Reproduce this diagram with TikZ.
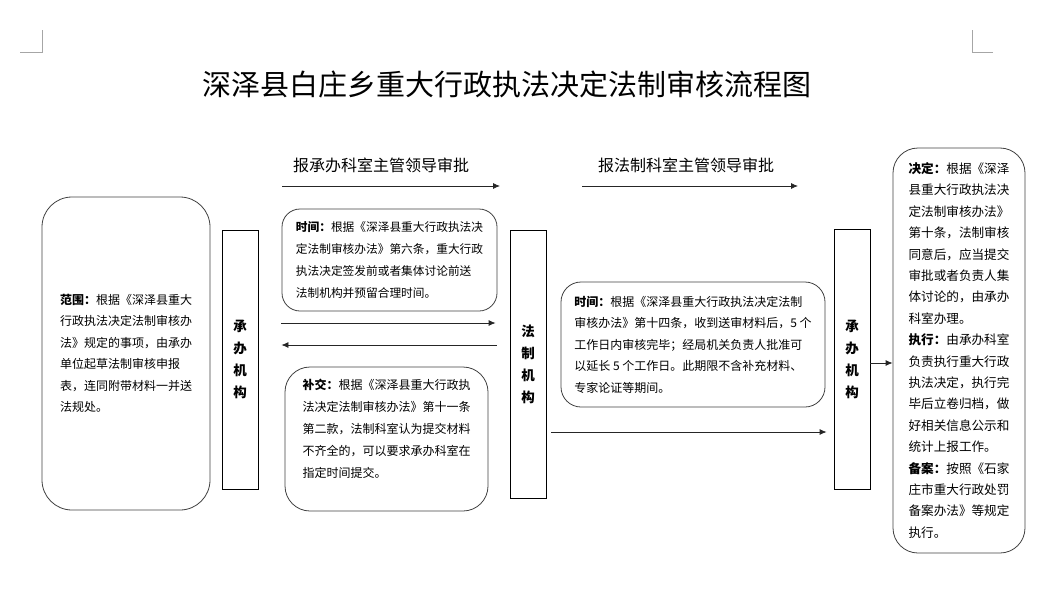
\documentclass[tikz,border=0pt]{standalone}
\usepackage{fontspec}
\setmainfont{Noto Sans CJK SC}
\usetikzlibrary{calc,positioning,arrows.meta}

\begin{document}
\begin{tikzpicture}[
  x=1pt, y=-1pt,
  >={Latex[length=7pt,width=6pt]},
  scope box/.style={
    rectangle,
    rounded corners=30pt,
    draw=black!75, line width=0.8pt,
    minimum height=313pt, minimum width=168pt,
    inner sep=0pt, align=left,
    font=\fontsize{12}{21.5}\selectfont
  },
  time box/.style={
    rectangle,
    rounded corners=18pt,
    draw=black!75, line width=0.8pt,
    minimum height=102pt, minimum width=215pt,
    inner sep=0pt, align=left,
    font=\fontsize{11.7}{22}\selectfont
  },
  supply box/.style={
    rectangle,
    rounded corners=25pt,
    draw=black!75, line width=0.8pt,
    minimum height=144pt, minimum width=203pt,
    inner sep=0pt, align=left,
    font=\fontsize{12}{22}\selectfont
  },
  review box/.style={
    rectangle,
    rounded corners=20pt,
    draw=black!75, line width=0.8pt,
    minimum height=125pt, minimum width=264pt,
    inner sep=0pt, align=left,
    font=\fontsize{12}{21.5}\selectfont
  },
  decision box/.style={
    rectangle,
    rounded corners=25pt,
    draw=black!75, line width=0.8pt,
    minimum height=405pt, minimum width=132pt,
    inner sep=0pt, align=left,
    font=\fontsize{12.6}{21.4}\selectfont
  },
  agency/.style={
    rectangle,
    draw=black, line width=0.8pt,
    minimum width=36pt,
    inner sep=0pt, align=center,
    font=\fontsize{13.5}{22}\selectfont\bfseries
  },
  header/.style={font=\fontsize{16}{18}\selectfont, inner sep=0pt},
  flow/.style={->, draw=black!85, line width=0.8pt},
  corner mark/.style={draw=black!35, line width=0.8pt}
  ]
\useasboundingbox (0,0) rectangle (1054,605);
% Corner marks
\draw[corner mark] (20,52) -- (42,52) -- (42,30);
\draw[corner mark] (993,52) -- (972,52) -- (972,30);
% Title
\node [font=\fontsize{29}{32}\selectfont] (title) at (507,85) {深泽县白庄乡重大行政执法决定法制审核流程图};
% Scope
\node [scope box] (scope) at (126,353.5)
  {\textbf{范围：}根据《深泽县重大\\ 行政执法决定法制审核办\\ 法》规定的事项，由承办\\ 单位起草法制审核申报\\ 表，连同附带材料一并送\\ 法规处。};
% Handling office
\node [agency, minimum height=259pt] (handling office) at (240,359.5) {承\\ 办\\ 机\\ 构};
% Time limit before review
\node [time box] (submit time) at (389.5,260)
  {\textbf{时间：}根据《深泽县重大行政执法决\\ 定法制审核办法》第六条，重大行政\\ 执法决定签发前或者集体讨论前送\\ 法制机构并预留合理时间。};
% Supplement
\node [supply box] (supplement) at (386.5,439)
  {\textbf{补交：}根据《深泽县重大行政执\\ 法决定法制审核办法》第十一条\\ 第二款，法制科室认为提交材料\\ 不齐全的，可以要求承办科室在\\ 指定时间提交。\\ \mbox{}};
% Legal office
\node [agency, minimum height=268pt] (legal office) at (528,364) {法\\ 制\\ 机\\ 构};
% Review time
\node [review box] (review time) at (693,344.5)
  {\textbf{时间：}根据《深泽县重大行政执法决定法制\\ 审核办法》第十四条，收到送审材料后，5 个\\ 工作日内审核完毕；经局机关负责人批准可\\ 以延长 5 个工作日。此期限不含补充材料、\\ 专家论证等期间。};
% Handling office again
\node [agency, minimum height=260pt] (executing office) at (852,359) {承\\ 办\\ 机\\ 构};
% Decision
\node [decision box] (decision) at (959,350.5)
  {\textbf{决定：}根据《深泽\\ 县重大行政执法决\\ 定法制审核办法》\\ 第十条，法制审核\\ 同意后，应当提交\\ 审批或者负责人集\\ 体讨论的，由承办\\ 科室办理。\\
   \textbf{执行：}由承办科室\\ 负责执行重大行政\\ 执法决定，执行完\\ 毕后立卷归档，做\\ 好相关信息公示和\\ 统计上报工作。\\
   \textbf{备案：}按照《石家\\ 庄市重大行政处罚\\ 备案办法》等规定\\ 执行。};
% Headers
\node [header] (leader one) at (381,165) {报承办科室主管领导审批};
\node [header] (leader two) at (686,165) {报法制科室主管领导审批};
\coordinate (leader one start) at (282,186);
\coordinate (leader one end) at (500,186);
\coordinate (leader two start) at (582,186);
\coordinate (leader two end) at (798,186);
\draw[flow] (leader one start) -- (leader one end);
\draw[flow] (leader two start) -- (leader two end);
% Between the offices
\coordinate (send start) at ($(handling office.east |- 0,323) + (23,0)$);
\coordinate (send end) at ($(legal office.west |- 0,323) + (-14,0)$);
\coordinate (back start) at ($(legal office.west |- 0,345) + (-13,0)$);
\coordinate (back end) at ($(handling office.east |- 0,345) + (23,0)$);
\draw[flow] (send start) -- (send end);
\draw[flow] (back start) -- (back end);
\coordinate (return start) at ($(legal office.east |- 0,432) + (5,0)$);
\coordinate (return end) at ($(executing office.west |- 0,432) + (-7,0)$);
\draw[flow] (return start) -- (return end);
\draw[flow] (executing office.east |- 0,363) -- (decision.west |- 0,363);
\end{tikzpicture}
\end{document}
